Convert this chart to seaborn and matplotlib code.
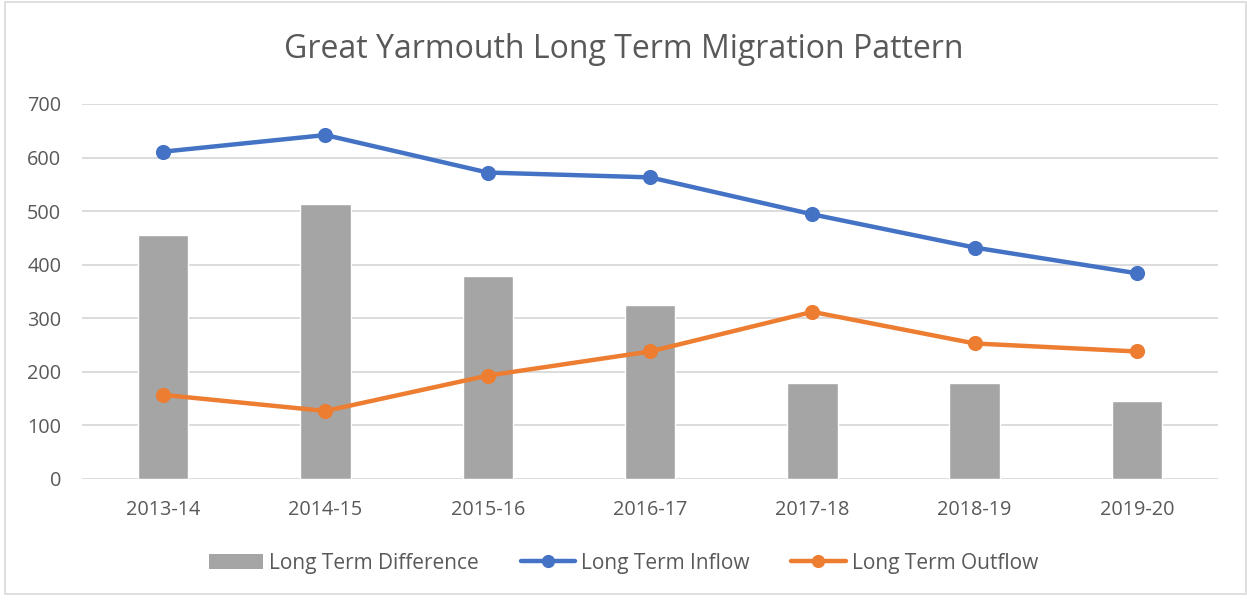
import numpy as np
import pandas as pd
import seaborn as sns
import matplotlib.pyplot as plt
from matplotlib.lines import Line2D
from matplotlib.patches import Patch, Rectangle

# %% data
years = ['2013-14', '2014-15', '2015-16', '2016-17', '2017-18', '2018-19', '2019-20']
inflow = [611, 642, 572, 563, 494, 432, 384]
outflow = [157, 127, 193, 238, 312, 253, 238]
difference = [455, 513, 379, 324, 180, 180, 145]

df = pd.DataFrame({'year': years, 'inflow': inflow,
                   'outflow': outflow, 'difference': difference})

# %% style
sns.set_theme(style='white')
plt.rcParams['font.family'] = ['Open Sans', 'DejaVu Sans']
txt = '#595959'
c_bar = '#A5A5A5'
c_in = '#4472C4'
c_out = '#ED7D31'

fig = plt.figure(figsize=(12.47, 6.01), dpi=100)
ax = fig.add_axes([0.0658, 0.203, 0.911, 0.624])

# bars + lines
sns.barplot(data=df, x='year', y='difference', color=c_bar, width=0.31,
            saturation=1, ax=ax, zorder=2)
sns.pointplot(data=df, x='year', y='inflow', color=c_in, markers='o',
              markersize=8.5, linewidth=3.2, ax=ax, zorder=3)
sns.pointplot(data=df, x='year', y='outflow', color=c_out, markers='o',
              markersize=8.5, linewidth=3.2, ax=ax, zorder=3)

ax.set_ylim(0, 700)
ax.set_xlim(-0.5, 6.5)
ax.set_yticks(range(0, 701, 100))
ax.yaxis.grid(True, color='#D9D9D9', linewidth=1.3, zorder=0)
ax.set_axisbelow(True)
for s in ax.spines.values():
    s.set_visible(False)
ax.set_xlabel('')
ax.set_ylabel('')
ax.tick_params(axis='both', length=0, labelsize=14.3, colors=txt)
ax.tick_params(axis='x', pad=15)
ax.tick_params(axis='y', pad=15)

fig.suptitle('Great Yarmouth Long Term Migration Pattern', y=0.945,
             fontsize=23, color=txt)

handles = [Patch(facecolor=c_bar, edgecolor='none'),
           Line2D([], [], color=c_in, lw=3.2, marker='o', markersize=8.5),
           Line2D([], [], color=c_out, lw=3.2, marker='o', markersize=8.5)]
labels = ['Long Term Difference', 'Long Term Inflow', 'Long Term Outflow']
fig.legend(handles, labels, loc='center', bbox_to_anchor=(0.5, 0.063), ncol=3,
           frameon=False, fontsize=15, labelcolor=txt, handlelength=2.6,
           handletextpad=0.3, columnspacing=2.0)

# chart border
fig.patches.append(Rectangle((0.004, 0.012), 0.995, 0.985, transform=fig.transFigure,
                             fill=False, edgecolor='#D9D9D9', linewidth=1.2))

plt.savefig('out.png', dpi=100)
